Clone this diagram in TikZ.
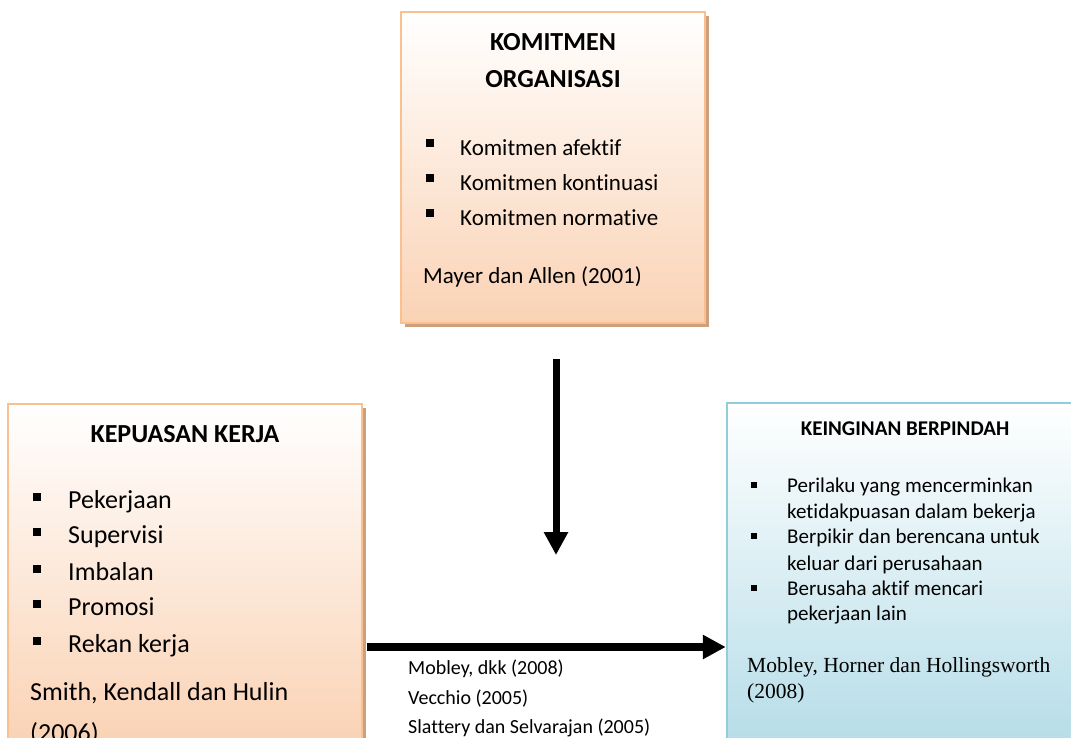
\documentclass[tikz,border=0pt]{standalone}
\usepackage{fontspec}
\setmainfont{Carlito}[Ligatures={NoCommon}]
\newfontfamily\timesf{Liberation Serif}
\usetikzlibrary{arrows.meta}
\definecolor{orbord}{RGB}{250,192,144}
\definecolor{orfill}{RGB}{250,210,180}
\definecolor{orshad}{RGB}{205,160,125}
\definecolor{blbord}{RGB}{146,205,220}
\definecolor{blfill}{RGB}{182,221,232}
\begin{document}
\begin{tikzpicture}[x=1pt,y=1pt,
  obox/.style={draw=orbord, line width=2.5pt, top color=white, bottom color=orfill, rectangle, inner sep=0pt},
  bbox/.style={draw=blbord, line width=2.5pt, top color=white, bottom color=blfill, rectangle, inner sep=0pt},
  shad/.style={fill=orshad},
  txt/.style={anchor=base west, inner sep=0pt},
  ttl/.style={anchor=base, inner sep=0pt, font=\bfseries},
  bul/.style={fill=black},
  arr/.style={line width=7.5pt, -{Triangle[width=23pt,length=23pt]}}
]
\useasboundingbox (0,-737) rectangle (1071,0);
\clip (0,-737) rectangle (1071,0);

% shadows
\fill[shad] (405,-16) rectangle (709,-327);
\fill[shad] (12,-408) rectangle (366,-749);

% boxes
\node[obox, minimum width=304pt, minimum height=311pt] (kom) at (553,-167.5) {};
\node[obox, minimum width=354pt, minimum height=341pt] (kep) at (185,-574.5) {};
\node[bbox, minimum width=358pt, minimum height=342pt] (kei) at (906,-574) {};

% top box text
\node[ttl, font=\bfseries\fontsize{26}{31}\selectfont] (t1) at (553,-50) {KOMITMEN};
\node[ttl, font=\bfseries\fontsize{26}{31}\selectfont] (t2) at (553,-87) {ORGANISASI};
\foreach \y/\s [count=\i] in {155/Komitmen afektif,190/Komitmen kontinuasi,225/Komitmen normative}{
  \fill[bul] (426,-\y+16) rectangle (434,-\y+8);
  \node[txt, font=\fontsize{23}{28}\selectfont] (k\i) at (460,-\y) {\s};
}
\node[txt, font=\fontsize{23}{28}\selectfont] (kref) at (423,-283) {Mayer dan Allen (2001)};

% left box text
\node[ttl, font=\bfseries\fontsize{26}{31}\selectfont] (l0) at (185,-442) {KEPUASAN KERJA};
\foreach \y/\s [count=\i] in {508/Pekerjaan,543/Supervisi,580/Imbalan,615/Promosi,652/Rekan kerja}{
  \fill[bul] (33,-\y+15) rectangle (41,-\y+7);
  \node[txt, font=\fontsize{26}{31}\selectfont] (l\i) at (68,-\y) {\s};
}
\node[txt, font=\fontsize{26}{31}\selectfont] (lref1) at (30,-700) {Smith, Kendall dan Hulin};
\node[txt, font=\fontsize{26}{31}\selectfont] (lref2) at (30,-741) {(2006)};

% right box text
\node[ttl, font=\bfseries\fontsize{21}{26}\selectfont] (r0) at (905,-435) {KEINGINAN BERPINDAH};
\foreach \y in {492,543,595}{
  \fill[bul] (751,-\y+10) rectangle (757,-\y+4);
}
\node[txt, font=\fontsize{21}{26}\selectfont] (r1) at (787,-492) {Perilaku yang mencerminkan};
\node[txt, font=\fontsize{21}{26}\selectfont] (r2) at (787,-518) {ketidakpuasan dalam bekerja};
\node[txt, font=\fontsize{21}{26}\selectfont] (r3) at (787,-543) {Berpikir dan berencana untuk};
\node[txt, font=\fontsize{21}{26}\selectfont] (r4) at (787,-570) {keluar dari perusahaan};
\node[txt, font=\fontsize{21}{26}\selectfont] (r5) at (787,-595) {Berusaha aktif mencari};
\node[txt, font=\fontsize{21}{26}\selectfont] (r6) at (787,-620) {pekerjaan lain};
\node[txt, font=\timesf\fontsize{21.5}{26}\selectfont] (rref1) at (747,-672) {Mobley, Horner dan Hollingsworth};
\node[txt, font=\timesf\fontsize{21.5}{26}\selectfont] (rref2) at (747,-698) {(2008)};

% middle references
\node[txt, font=\fontsize{20}{30}\selectfont] (m1) at (408,-674) {Mobley, dkk (2008)};
\node[txt, font=\fontsize{20}{30}\selectfont] (m2) at (408,-704) {Vecchio (2005)};
\node[txt, font=\fontsize{20}{30}\selectfont] (m3) at (408,-733) {Slattery dan Selvarajan (2005)};

% arrows
\coordinate (d1) at (556,-359);
\coordinate (d2) at (556,-555);
\draw[arr, line width=7pt] (d1) -- (d2);
\coordinate (h1) at (367,-647);
\draw[arr] (h1) -- (kei.west |- h1);
\end{tikzpicture}
\end{document}
